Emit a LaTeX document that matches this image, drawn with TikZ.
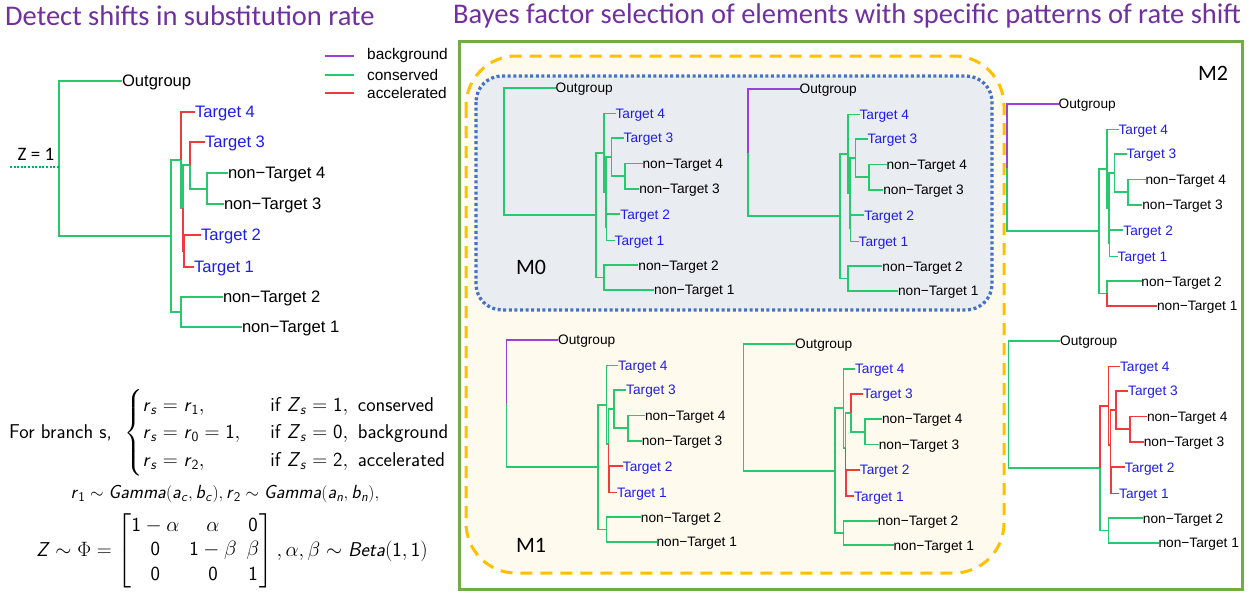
\documentclass[tikz,border=0pt]{standalone}
\usepackage{amsmath}
\usepackage{fontspec}
\newfontfamily\calib{Carlito}
\newfontfamily\arial{Liberation Sans}
\definecolor{titlec}{HTML}{7030A0}
\definecolor{consc}{RGB}{40,200,110}
\definecolor{accc}{RGB}{238,60,60}
\definecolor{bgc}{RGB}{155,64,216}
\definecolor{tgc}{RGB}{30,30,230}
\definecolor{framec}{HTML}{70AD47}
\definecolor{orc}{HTML}{FFC000}
\definecolor{creamc}{HTML}{FFFAEE}
\definecolor{bluec}{HTML}{4472C4}
\definecolor{greyc}{HTML}{E9ECF0}
\definecolor{zc}{RGB}{0,176,100}
\newcommand{\sv}[1]{\textsf{\textit{#1}}}
\newcommand{\sn}[1]{\mathsf{#1}}
\tikzset{
  cons/.style={color=consc}, acc/.style={color=accc}, bg/.style={color=bgc},
  eOut/.style=cons, eIn/.style=cons, eA/.style=cons, eF/.style=cons,
  eB/.style=cons, eC/.style=cons, eD/.style=cons, eE/.style=cons,
  eT1/.style=cons, eT2/.style=cons, eT3/.style=cons, eT4/.style=cons,
  eN1/.style=cons, eN2/.style=cons, eN3/.style=cons, eN4/.style=cons,
  leaf/.style={anchor=west, inner sep=0pt, outer sep=0pt, text depth=0pt},
  bigleaf/.style={leaf, font=\arial\fontsize{16.6}{19}\selectfont, text height=11.9pt},
  smallleaf/.style={leaf, font=\arial\fontsize{13.7}{16}\selectfont, text height=9.8pt},
  tg/.style={text=tgc}, nt/.style={text=black},
  mlabel/.style={font=\calib\fontsize{22}{26}\selectfont, inner sep=0pt},
  ttl/.style={font=\calib\fontsize{28.5}{32}\selectfont, text=titlec, anchor=west, inner sep=0pt},
  leg/.style={font=\arial\fontsize{15.4}{18}\selectfont, anchor=west, inner sep=0pt},
  frm/.style={font=\sffamily\fontsize{20}{22}\selectfont, inner sep=0pt},
  frmg/.style={font=\sffamily\fontsize{19}{22}\selectfont, inner sep=0pt},
  smalltree/.style={line width=1.8pt},
}
\newcommand{\phylo}[5]{%
\begin{scope}[shift={(#2,#3)},scale=#4]
\coordinate (#1r) at (0,77.5);
\coordinate (#1in) at (112,155);
\coordinate (#1A) at (122,79);
\coordinate (#1F) at (122,231);
\coordinate (#1B) at (124.3,127.1);
\coordinate (#1D) at (125,170);
\coordinate (#1C) at (131,84.25);
\coordinate (#1E) at (148,107.5);
\node[#5,nt] (#1out) at (63,0) {Outgroup};
\node[#5,tg] (#1t4) at (136,31) {Target 4};
\node[#5,tg] (#1t3) at (146,61) {Target 3};
\node[#5,nt] (#1n4) at (169,92) {non−Target 4};
\node[#5,nt] (#1n3) at (165,123) {non−Target 3};
\node[#5,tg] (#1t2) at (142,154) {Target 2};
\node[#5,tg] (#1t1) at (135,186) {Target 1};
\node[#5,nt] (#1n2) at (164,216) {non−Target 2};
\node[#5,nt] (#1n1) at (183,246) {non−Target 1};
\draw[eOut] (#1r) |- (#1out.west);
\draw[eIn] (#1r) |- (#1in);
\draw[eA] (#1in) |- (#1A);
\draw[eF] (#1in) |- (#1F);
\draw[eT4] (#1A) |- (#1t4.west);
\draw[eB] (#1A) |- (#1B);
\draw[eC] (#1B) |- (#1C);
\draw[eD] (#1B) |- (#1D);
\draw[eT3] (#1C) |- (#1t3.west);
\draw[eE] (#1C) |- (#1E);
\draw[eN4] (#1E) |- (#1n4.west);
\draw[eN3] (#1E) |- (#1n3.west);
\draw[eT2] (#1D) |- (#1t2.west);
\draw[eT1] (#1D) |- (#1t1.west);
\draw[eN2] (#1F) |- (#1n2.west);
\draw[eN1] (#1F) |- (#1n1.west);
\end{scope}}
\begin{document}
\begin{tikzpicture}[x=1pt,y=-1pt]
\useasboundingbox (0,0) rectangle (1255,595);
\fill[white] (0,0) rectangle (1255,595);
% titles
\node[ttl] (t1) at (5,16) {Detect shifts in substitution rate};
\node[ttl] (t2) at (453,16) {Bayes factor selection of elements with specific patterns of rate shift};
% frames
\draw[framec, line width=3pt] (459.5,41) rectangle (1242,589.5);
\draw[orc, fill=creamc, line width=3pt, dash pattern=on 12pt off 8pt, rounded corners=50pt] (466,56) rectangle (1004,573);
\draw[bluec, fill=greyc, line width=3.3pt, dash pattern=on 3pt off 2.6pt, rounded corners=26pt] (476,76) rectangle (992,310);
% legend
\foreach \nm/\c/\yy/\tx in {lb/bg/56/background, lc/cons/74.7/conserved, la/acc/93.3/accelerated}{
  \coordinate (\nm a) at (325,\yy);
  \coordinate (\nm b) at (354,\yy);
  \draw[\c, line width=2pt] (\nm a) -- (\nm b);
  \node[leg] (\nm t) at (367,\yy) {\tx};
}
% left tree
\begin{scope}[line width=2pt, eT4/.style=acc, eD/.style=acc, eT3/.style=acc, eT2/.style=acc, eT1/.style=acc]
\phylo{L}{59}{81}{1}{bigleaf}
\end{scope}
\coordinate (zs) at (10,167);
\coordinate (zr) at (59,167);
\draw[zc, line width=2pt, dash pattern=on 2pt off 1.6pt] (zs) -- (zr);
\node[font=\calib\fontsize{19}{22}\selectfont, inner sep=0pt] (zl) at (36,154) {Z = 1};
% small trees
\begin{scope}[smalltree]
\phylo{Pa}{504}{88}{0.82}{smallleaf}
\end{scope}
\begin{scope}[smalltree, eOut/.style=bg]
\phylo{Pb}{748}{89}{0.82}{smallleaf}
\end{scope}
\begin{scope}[smalltree, eOut/.style=bg, eD/.style=acc, eT2/.style=acc, eT1/.style=acc]
\phylo{Pc}{506.5}{340}{0.82}{smallleaf}
\end{scope}
\begin{scope}[smalltree, eT3/.style=acc, eD/.style=acc, eT2/.style=acc, eT1/.style=acc]
\phylo{Pd}{743.5}{343.6}{0.82}{smallleaf}
\end{scope}
\begin{scope}[smalltree, eOut/.style=bg, eN1/.style=acc]
\phylo{Pe}{1007}{104}{0.82}{smallleaf}
\end{scope}
\begin{scope}[smalltree, eA/.style=acc, eT4/.style=acc, eB/.style=acc, eC/.style=acc, eD/.style=acc, eT3/.style=acc, eE/.style=acc, eN4/.style=acc, eN3/.style=acc, eT2/.style=acc, eT1/.style=acc]
\phylo{Pf}{1008.5}{341}{0.82}{smallleaf}
\end{scope}
% model labels
\node[mlabel] (m0) at (531,267) {M0};
\node[mlabel] (m1) at (531,545) {M1};
\node[mlabel] (m2) at (1213,73) {M2};
% formulas
\node[frm, anchor=west] (fb) at (9,433) {For branch s,};
\node[frm, anchor=west] (fc) at (124,433) {$\left\{\renewcommand{\arraystretch}{1.25}\begin{array}{@{}l@{\hspace{30pt}}l@{}}
\sv{r}_{\sv{s}} = \sv{r}_{\sn{1}}, & \text{if } \sv{Z}_{\sv{s}} = \sn{1},\ \text{conserved}\\
\sv{r}_{\sv{s}} = \sv{r}_{\sn{0}} = \sn{1}, & \text{if } \sv{Z}_{\sv{s}} = \sn{0},\ \text{background}\\
\sv{r}_{\sv{s}} = \sv{r}_{\sn{2}}, & \text{if } \sv{Z}_{\sv{s}} = \sn{2},\ \text{accelerated}
\end{array}\right.$};
\node[frmg] (fg) at (225,494) {$\sv{r}_{\sn{1}} \sim \sv{Gamma}(\sv{a}_{\sv{c}}, \sv{b}_{\sv{c}}), \sv{r}_{\sn{2}} \sim \sv{Gamma}(\sv{a}_{\sv{n}}, \sv{b}_{\sv{n}}),$};
\node[frm] (fm) at (232,551) {$\renewcommand{\arraystretch}{1.12}\sv{Z} \sim \Phi = \begin{bmatrix} \sn{1}-\alpha & \alpha & \sn{0}\\ \sn{0} & \sn{1}-\beta & \beta\\ \sn{0} & \sn{0} & \sn{1}\end{bmatrix}, \alpha,\beta \sim \sv{Beta}(\sn{1},\sn{1})$};
\end{tikzpicture}
\end{document}
